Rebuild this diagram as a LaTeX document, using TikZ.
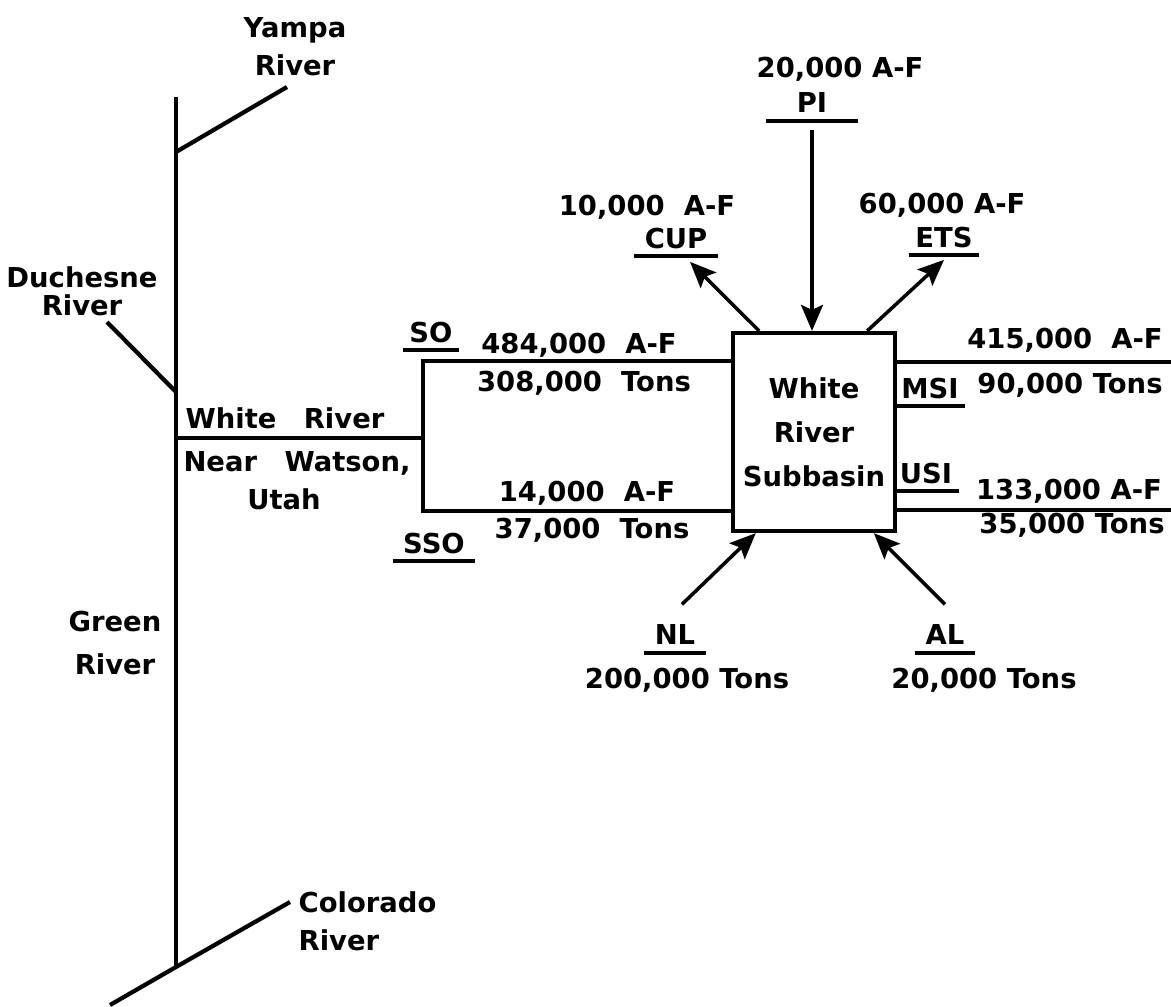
\documentclass[tikz,border=0pt]{standalone}
\usepackage{fontspec}
\setmainfont{DejaVu Sans}
\usetikzlibrary{arrows.meta,positioning,calc}

\tikzset{
  lbl/.style={font=\bfseries\fontsize{7.8}{10.8}\selectfont,inner sep=0pt,align=center},
  tag/.style={lbl,inner xsep=0.6mm,inner ysep=0.7mm,text depth=0pt},
  river/.style={line width=1.2pt},
  flow/.style={line width=1pt,-{Stealth[length=2.6mm,width=2.2mm,inset=0.5mm]}},
  uline/.style={line width=1.2pt}
}

\begin{document}
\begin{tikzpicture}[>=Stealth]
  \useasboundingbox (0,0) rectangle (11.71,-10.07);
  % Green River and its tributaries
  \coordinate (gtop) at (1.76,-0.97);
  \coordinate (gbot) at (1.76,-9.67);
  \coordinate (yj) at (1.76,-1.52);
  \coordinate (dj) at (1.76,-3.92);
  \coordinate (wj) at (1.76,-4.38);
  \coordinate (yend) at (2.87,-0.87);
  \coordinate (dend) at (1.07,-3.22);
  \coordinate (cw) at (1.10,-10.05);
  \coordinate (ce) at (2.90,-9.02);
  \draw[river] (gtop) -- (gbot);
  \draw[river] (yj) -- (yend);
  \draw[river] (dj) -- (dend);
  \draw[river] (cw) -- (gbot) -- (ce);
  \node[lbl] (yampa) at (2.95,-0.47) {Yampa\\River};
  \node[lbl] (duch) at (0.82,-2.91) {Duchesne\\[-2.8pt]River};
  \node[lbl] (green) at (1.15,-6.43) {Green\\[1.2pt]River};
  \node[lbl,align=left,anchor=west] (colo) at (2.98,-9.21) {Colorado\\River};
  % White River near Watson
  \coordinate (wend) at (4.23,-4.38);
  \draw[river] (wj) -- (wend);
  \node[lbl] (wrup) at (2.85,-4.18) {White\quad River};
  \node[lbl] (wrdn) at (2.97,-4.81) {Near\quad Watson,\\Utah\hspace*{0.26cm}};
  % subbasin box
  \node[lbl,draw,line width=1.2pt,minimum width=1.62cm,minimum height=1.98cm] (wrs) at (8.14,-4.32) {White\\[1.7pt]River\\[1.7pt]Subbasin};
  \coordinate (so) at (4.23,-3.61);
  \coordinate (sso) at (4.23,-5.11);
  \draw[river] (wrs.west |- so) -- (so) -- (sso) -- (wrs.west |- sso);
  \coordinate (msiend) at (11.71,-3.62);
  \coordinate (usiend) at (11.71,-5.10);
  \draw[river] (wrs.east |- msiend) -- (msiend);
  \draw[river] (wrs.east |- usiend) -- (usiend);
  % tags
  \node[tag] (sotag) at (4.31,-3.32) {SO};
  \node[tag,inner xsep=1mm] (ssotag) at (4.34,-5.43) {SSO};
  \node[tag] (msitag) at (9.30,-3.88) {MSI};
  \node[tag] (usitag) at (9.26,-4.73) {USI};
  \node[tag,inner xsep=3mm] (pitag) at (8.12,-1.03) {PI};
  \node[tag,inner xsep=1mm] (cuptag) at (6.76,-2.38) {CUP};
  \node[tag] (etstag) at (9.44,-2.37) {ETS};
  \node[tag,inner xsep=1mm] (nltag) at (6.75,-6.35) {NL};
  \node[tag,inner xsep=1mm] (altag) at (9.45,-6.35) {AL};
  \foreach \t in {sotag,ssotag,msitag,usitag,pitag,cuptag,etstag,nltag,altag}
    \draw[uline] (\t.south west) -- (\t.south east);
  % quantities
  \node[lbl] (soaf) at (5.79,-3.45) {484,000\ \ A-F};
  \node[lbl] (sot) at (5.84,-3.83) {308,000\ \ Tons};
  \node[lbl] (ssoaf) at (5.87,-4.93) {14,000\ \ A-F};
  \node[lbl] (ssot) at (5.92,-5.30) {37,000\ \ Tons};
  \node[lbl] (msiaf) at (10.65,-3.40) {415,000\ \ A-F};
  \node[lbl] (msit) at (10.70,-3.85) {90,000 Tons};
  \node[lbl] (usiaf) at (10.69,-4.91) {133,000 A-F};
  \node[lbl] (usit) at (10.72,-5.25) {35,000 Tons};
  \node[lbl] (piaf) at (8.40,-0.69) {20,000 A-F};
  \node[lbl] (cupaf) at (6.47,-2.07) {10,000\ \ A-F};
  \node[lbl] (etsaf) at (9.42,-2.05) {60,000 A-F};
  \node[lbl] (nlt) at (6.87,-6.80) {200,000 Tons};
  \node[lbl] (alt) at (9.84,-6.80) {20,000 Tons};
  % flows
  \draw[flow] ([yshift=-0.9mm]pitag.south) -- (pitag.south |- wrs.north);
  \draw[flow] ($(wrs.north west)!0.17!(wrs.north east)$) -- ([xshift=1.4mm,yshift=-0.6mm]cuptag.south);
  \draw[flow] ($(wrs.north west)!0.82!(wrs.north east)$) -- ([yshift=-0.5mm]etstag.south);
  \draw[flow] ([xshift=0.7mm,yshift=1.3mm]nltag.north) -- ($(wrs.south west)!0.15!(wrs.south east)$);
  \draw[flow] ([yshift=1.3mm]altag.north) -- ($(wrs.south west)!0.86!(wrs.south east)$);
\end{tikzpicture}
\end{document}
